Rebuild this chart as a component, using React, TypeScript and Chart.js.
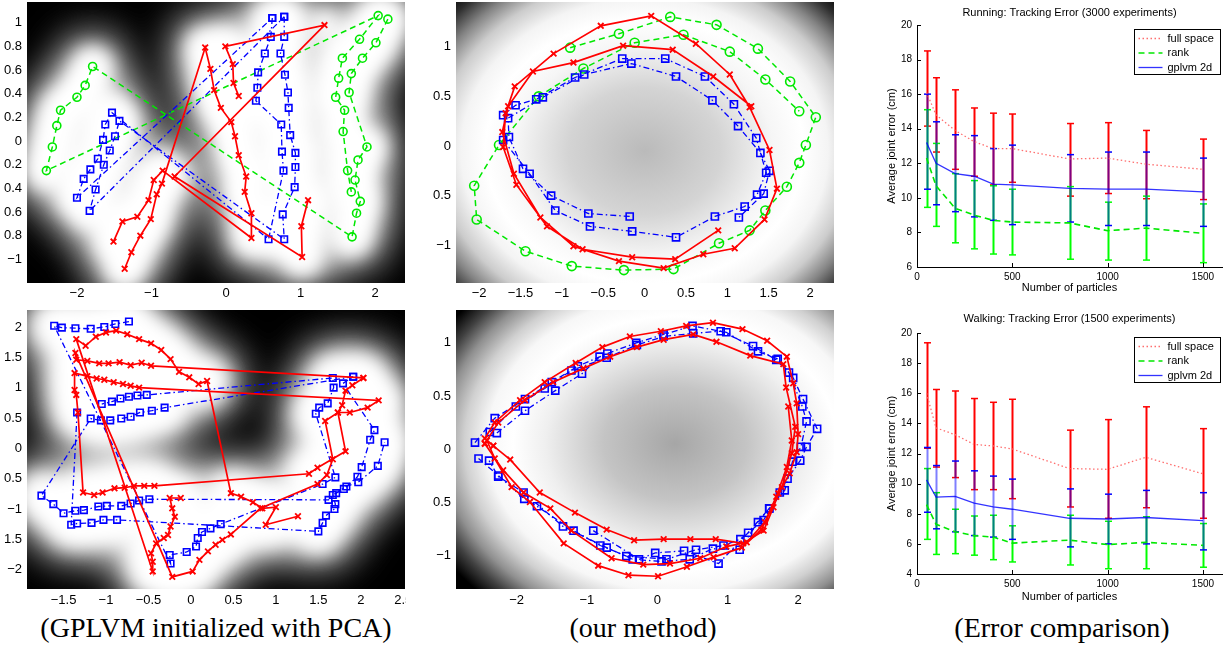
import React, { useEffect, useRef } from 'react';
import { Chart, registerables } from 'chart.js';
Chart.register(...registerables);

type Pt = [number, number];

// ---------------- Panel 1 (GPLVM / PCA init, running) ----------------
const P1_RED_A: Pt[] = [[0.17,0.38],[0.10,0.49],[0.09,0.65],[-0.01,0.80],[1.32,0.98],[-0.69,-0.30],[1.02,-0.98],[1.01,-0.72],[1.10,-0.50]];
const P1_RED_B: Pt[] = [[-1.51,-0.85],[-1.39,-0.68],[-1.19,-0.64],[-1.04,-0.50],[-0.97,-0.33],[-0.85,-0.25],[0.34,-0.82],[0.34,-0.61],[0.25,-0.43],[0.27,-0.30],[0.17,-0.12],[0.12,0.04],[0.07,0.16],[-0.07,0.28],[-0.16,0.43],[-0.21,0.61],[-0.28,0.79],[-0.86,-0.36],[-0.93,-0.45],[-1.01,-0.66],[-1.15,-0.80],[-1.27,-0.94],[-1.36,-1.08]];
const P1_BLUE_A: Pt[] = [[0.62,1.04],[0.60,0.88],[0.52,0.74],[0.43,0.58],[0.42,0.45],[0.40,0.34],[0.74,0.14],[0.75,-0.09],[0.77,-0.25],[0.57,-0.83],[-1.53,0.24],[-1.62,0.14],[-1.65,0.01],[-1.72,-0.15],[-1.82,-0.24],[-1.91,-0.32],[-2.00,-0.48],[0.62,1.04]];
const P1_BLUE_B: Pt[] = [[0.78,1.05],[0.78,0.88],[0.73,0.74],[0.79,0.56],[0.83,0.41],[0.84,0.28],[0.86,0.05],[0.93,-0.10],[0.93,-0.22],[0.92,-0.39],[0.76,-0.62],[0.78,-0.83],[-1.43,0.17],[-1.49,0.04],[-1.56,-0.08],[-1.64,-0.20],[-1.75,-0.41],[-1.83,-0.59],[0.78,1.05]];
const P1_GREEN: Pt[] = [[2.17,1.03],[2.01,0.83],[1.83,0.70],[1.68,0.57],[1.65,0.41],[1.89,-0.05],[1.77,-0.16],[1.73,-0.33],[1.80,-0.51],[1.75,-0.61],[1.69,-0.81],[-1.79,0.63],[-1.89,0.47],[-2.00,0.37],[-2.22,0.26],[-2.27,0.13],[-2.33,-0.05],[-2.41,-0.25],[2.04,1.06],[1.79,0.86],[1.56,0.70],[1.51,0.53],[1.47,0.37],[1.59,0.26],[1.57,0.08],[1.63,-0.25],[1.68,-0.43]];
const P1_X_TICKS = [-2, -1, 0, 1, 2];
const P1_Y_TICKS = [-1, -0.8, -0.6, -0.4, -0.2, 0, 0.2, 0.4, 0.6, 0.8, 1];

// ---------------- Panel 2 (our method, running) ----------------
const P2_RED: Pt[] = [[0.89,-0.85],[0.37,-1.14],[-0.15,-1.12],[-0.75,-1.04],[-1.18,-0.81],[-1.55,-0.39],[-1.71,-0.01],[-1.68,0.33],[-1.57,0.60],[-1.10,0.93],[-0.53,1.21],[0.08,1.31],[0.62,1.03],[1.03,0.72],[1.27,0.39],[1.51,-0.04],[1.60,-0.43],[1.45,-0.74],[1.09,-1.03],[0.71,-1.09],[0.23,-1.23],[-0.31,-1.16],[-0.86,-1.01],[-1.26,-0.72],[-1.58,-0.28],[-1.72,0.14],[-1.65,0.40],[-1.35,0.75],[-0.86,0.84],[-0.26,1.01],[0.34,0.97],[0.83,0.70],[1.29,0.40]];
const P2_BLUE_A: Pt[] = [[-0.18,-0.71],[-0.68,-0.68],[-1.13,-0.50],[-1.47,-0.23],[-1.64,0.09],[-1.65,0.28],[-1.23,0.49],[-0.73,0.72],[-0.16,0.83],[0.38,0.70],[0.82,0.46],[1.13,0.20],[1.40,-0.07],[1.51,-0.25],[1.44,-0.48],[1.14,-0.72]];
const P2_BLUE_B: Pt[] = [[-1.71,0.06],[-1.39,-0.28],[-1.08,-0.65],[-0.66,-0.81],[-0.15,-0.86],[0.38,-0.92],[0.85,-0.71],[1.21,-0.61],[1.36,-0.49],[1.47,-0.27],[1.35,0.08],[1.08,0.42],[0.73,0.70],[0.25,0.88],[-0.27,0.88],[-0.84,0.69],[-1.31,0.47],[-1.56,0.41],[-1.71,0.31]];
const P2_GREEN: Pt[] = [[-0.90,0.99],[-0.31,1.13],[0.31,1.30],[0.87,1.22],[1.37,0.98],[1.76,0.65],[2.07,0.29],[1.95,0.01],[1.87,-0.17],[1.72,-0.41],[1.46,-0.65],[1.27,-0.85],[0.90,-0.98],[0.35,-1.24],[-0.25,-1.25],[-0.88,-1.21],[-1.44,-1.06],[-2.03,-0.74],[-2.06,-0.40],[-1.76,0.01],[-1.28,0.50],[-0.74,0.78],[-0.12,1.04],[0.47,1.12],[1.03,0.95],[1.46,0.67],[1.87,0.35]];
const P2_X_TICKS = [-2, -1.5, -1, -0.5, 0, 0.5, 1, 1.5, 2];
const P2_Y_TICKS = [-1, -0.5, 0, 0.5, 1];

// ---------------- Panel 4 (GPLVM / PCA init, walking) ----------------
const P4_RED_A: Pt[] = [[-0.12,-0.82],[-0.25,-0.82],[-0.22,-0.99],[-0.19,-1.13],[-0.24,-1.29],[-0.27,-1.43],[-0.32,-1.48],[-0.41,-1.57],[-0.47,-1.73],[-0.45,-1.87],[-0.45,-2.03],[-1.35,1.80],[-1.24,1.69],[-1.12,1.84],[-1.00,1.91],[-0.88,1.94],[-0.75,1.88],[-0.61,1.80],[-0.47,1.73],[-0.35,1.62],[-0.24,1.47],[-0.14,1.26],[-0.02,1.17],[0.09,1.06],[0.19,1.11],[0.47,-0.74],[0.59,-0.80],[0.73,-0.89],[0.84,-0.99],[1.00,-0.97],[0.88,-1.26],[1.26,-1.12]];
const P4_RED_B: Pt[] = [[2.03,1.16],[-0.47,1.36],[-0.58,1.41],[-0.71,1.37],[-0.84,1.42],[-0.97,1.40],[-1.08,1.40],[-1.22,1.44],[-1.35,1.46],[-1.36,1.57],[-0.22,-2.12],[0.02,-2.03],[0.10,-1.84],[0.20,-1.70],[0.29,-1.59],[0.37,-1.51],[0.47,-1.42],[0.82,-0.99],[1.49,-0.59],[1.60,-0.44],[1.67,-0.18],[1.58,0.45],[1.73,0.59],[1.87,0.59],[2.08,0.67],[2.21,0.79],[-0.61,1.00],[-0.71,1.03],[-0.80,1.06],[-0.91,1.09],[-1.02,1.13],[-1.11,1.15],[-1.22,1.19],[-1.37,1.24],[-1.37,0.96],[-1.35,0.88],[-1.33,0.59],[-1.27,-0.73],[-1.14,-0.77],[-1.04,-0.73],[-0.90,-0.66],[-0.78,-0.65],[-0.67,-0.62],[-0.55,-0.62],[-0.43,-0.62],[1.39,-0.42],[1.49,-0.32],[1.82,-0.05],[1.73,0.59],[1.78,0.71],[1.82,0.95],[1.90,1.04],[2.03,1.16]];
const P4_BLUE_A: Pt[] = [[-0.73,2.09],[-0.89,2.05],[-1.02,2.00],[-1.18,1.97],[-1.36,1.98],[-1.52,1.99],[-1.61,2.02],[-0.24,-1.90],[-0.25,-1.76],[-0.05,-1.71],[0.06,-1.62],[0.08,-1.48],[0.13,-1.38],[0.23,-1.32],[0.35,-1.25],[1.55,-0.59],[1.70,-0.48],[1.47,0.57],[1.51,0.67],[1.61,0.74],[1.68,1.00],[1.67,1.16],[-0.52,0.88],[-0.63,0.87],[-0.73,0.85],[-0.83,0.82],[-0.93,0.77],[-1.05,0.73]];
const P4_BLUE_B: Pt[] = [[1.91,1.18],[-0.31,0.67],[-0.46,0.62],[-0.60,0.59],[-0.71,0.52],[-0.82,0.49],[-0.95,0.46],[-1.06,0.46],[-1.18,0.49],[-1.76,-0.78],[-1.62,-0.92],[-1.50,-1.07],[-1.36,-1.03],[-1.26,-1.02],[-1.09,-0.96],[-0.99,-0.95],[-0.82,-0.95],[-0.71,-0.91],[-0.61,-0.86],[-0.49,-0.84],[1.62,-0.85],[1.71,-0.74],[1.80,-0.67],[1.96,-0.47],[2.01,-0.31],[2.11,0.14],[2.16,0.30],[1.79,1.07],[1.91,1.18]];
const P4_BLUE_C: Pt[] = [[-1.34,0.59],[-1.41,-1.26],[-1.34,-1.24],[-1.17,-1.23],[-1.03,-1.18],[-0.87,-1.18],[1.50,-1.37],[1.55,-1.23],[1.59,-1.11],[1.69,-1.00],[1.70,-0.92],[1.67,-0.77],[1.83,-0.63],[1.97,-0.56],[2.20,-0.29],[2.28,0.10]];
const P4_X_TICKS = [-1.5, -1, -0.5, 0, 0.5, 1, 1.5, 2, 2.5];
const P4_Y_TICKS = [-2, -1.5, -1, -0.5, 0, 0.5, 1, 1.5, 2];

// ---------------- Panel 5 (our method, walking) ----------------
const P5_RED_A: Pt[] = [[-2.33,0.03],[-2.09,-0.10],[-1.67,-0.41],[-1.17,-0.60],[-0.72,-0.76],[-0.33,-0.86],[0.09,-0.85],[0.47,-0.85],[0.83,-0.85],[1.22,-0.89],[1.51,-0.77],[1.65,-0.55],[1.72,-0.42],[1.88,-0.23],[1.98,-0.03],[2.00,0.14],[1.98,0.43],[1.93,0.62],[1.84,0.87],[1.56,1.02],[1.21,1.13],[0.79,1.19],[0.41,1.16],[0.05,1.11],[-0.39,1.06],[-0.78,0.96],[-1.16,0.81],[-1.60,0.63],[-1.95,0.46],[-2.31,0.25],[-2.45,0.10],[-2.33,0.03]];
const P5_RED_B: Pt[] = [[-2.45,0.05],[-2.19,-0.20],[-1.90,-0.41],[-1.52,-0.56],[-1.22,-0.77],[-0.65,-1.03],[-0.20,-1.09],[0.18,-1.08],[0.61,-1.03],[0.98,-0.92],[1.27,-0.88],[1.53,-0.69],[1.77,-0.36],[1.91,-0.04],[1.96,0.21],[1.83,0.58],[1.79,0.80],[1.32,0.88],[0.84,1.01],[0.51,1.08],[0.09,1.03],[-0.29,0.96],[-0.67,0.87],[-1.05,0.76],[-1.48,0.63],[-1.88,0.46],[-2.26,0.25],[-2.45,0.05]];
const P5_RED_C: Pt[] = [[-2.42,0.08],[-2.31,-0.09],[-2.07,-0.36],[-1.81,-0.50],[-1.33,-0.89],[-0.84,-1.10],[-0.41,-1.19],[0.01,-1.20],[0.42,-1.11],[0.80,-1.02],[1.20,-0.93],[1.48,-0.76],[1.69,-0.45],[1.84,-0.17],[1.91,0.08],[1.86,0.40]];
const P5_BLUE_A: Pt[] = [[-2.59,0.06],[-2.31,0.29],[-1.88,0.47],[-1.50,0.63],[-1.13,0.78],[-0.71,0.90],[-0.30,1.00],[0.09,1.08],[0.50,1.16],[0.98,1.10],[1.43,0.92],[1.71,0.85],[1.93,0.67],[2.07,0.47],[2.27,0.19],[2.12,0.02],[2.03,-0.11],[1.85,-0.28],[1.74,-0.41],[1.51,-0.67],[1.18,-0.85],[0.94,-0.91],[0.55,-0.95],[0.13,-1.04],[-0.44,-1.01],[-0.81,-0.91],[-1.19,-0.77],[-1.71,-0.54],[-1.89,-0.47],[-2.26,-0.25],[-2.54,-0.09]];
const P5_BLUE_B: Pt[] = [[-2.38,0.16],[-2.01,0.40],[-1.60,0.57],[-1.22,0.74],[-0.72,0.86],[-0.29,0.98],[0.09,1.06],[0.51,1.09],[0.90,1.11],[1.36,0.97],[1.69,0.84],[1.87,0.72],[2.06,0.40],[2.12,0.26],[2.04,0.02],[1.92,-0.12],[1.81,-0.39],[1.59,-0.56],[1.43,-0.69],[1.17,-0.95],[0.79,-0.94],[0.46,-1.04],[0.06,-1.06],[-0.35,-1.04],[-0.72,-0.93],[-1.34,-0.73],[-1.90,-0.41],[-2.26,-0.26],[-2.39,-0.11]];
const P5_BLUE_C: Pt[] = [[-2.28,0.15],[-1.88,0.36],[-1.45,0.55],[-1.07,0.71],[-0.82,0.87]];
const P5_BLUE_D: Pt[] = [[-0.91,-0.77],[-0.26,-1.04],[-0.03,-0.98],[0.38,-0.96],[0.87,-1.08],[1.29,-0.79],[1.59,-0.56]];
const P5_X_TICKS = [-2, -1, 0, 1, 2];
const P5_Y_TICKS = [-1, -0.5, 0, 0.5, 1];

// ---------------- Error comparison ----------------
const PARTICLES = [50, 100, 200, 300, 400, 500, 800, 1000, 1200, 1500];
const ERR_X_TICKS = [0, 500, 1000, 1500];

const RUN_FULL = [16.1, 14.8, 13.9, 13.25, 12.85, 12.85, 12.25, 12.3, 11.95, 11.65];
const RUN_FULL_HI = [18.5, 16.95, 16.25, 15.2, 14.9, 14.85, 14.3, 14.35, 13.9, 13.4];
const RUN_FULL_LO = [14.15, 12.65, 11.65, 11.25, 10.75, 10.9, 10.1, 10.25, 9.95, 9.9];
const RUN_RANK = [12.3, 10.7, 9.4, 9.0, 8.7, 8.6, 8.55, 8.1, 8.25, 7.95];
const RUN_RANK_HI = [15.1, 13.15, 11.4, 11.0, 10.7, 10.5, 10.65, 9.75, 10.1, 9.65];
const RUN_RANK_LO = [9.45, 8.35, 7.4, 7.05, 6.75, 6.7, 6.45, 6.4, 6.4, 6.25];
const RUN_GP = [13.2, 12.0, 11.4, 11.25, 10.8, 10.75, 10.55, 10.5, 10.5, 10.35];
const RUN_GP_HI = [16.0, 14.4, 13.65, 13.6, 12.85, 13.05, 12.5, 12.65, 12.65, 12.3];
const RUN_GP_LO = [10.5, 9.6, 9.2, 8.9, 8.7, 8.45, 8.6, 8.4, 8.4, 8.35];
const RUN_Y_TICKS = [6, 8, 10, 12, 14, 16, 18, 20];

const WALK_FULL = [16.0, 13.7, 13.25, 12.6, 12.5, 12.3, 11.0, 10.95, 11.75, 10.65];
const WALK_FULL_HI = [19.35, 16.25, 16.15, 15.65, 15.4, 15.6, 13.55, 14.25, 15.1, 13.65];
const WALK_FULL_LO = [12.35, 11.1, 10.4, 9.6, 9.6, 9.0, 8.45, 7.7, 8.4, 7.7];
const WALK_RANK = [8.6, 7.3, 6.8, 6.55, 6.45, 6.05, 6.25, 5.95, 6.1, 5.9];
const WALK_RANK_HI = [11.0, 9.4, 8.3, 7.85, 7.9, 7.2, 7.9, 7.5, 7.8, 7.35];
const WALK_RANK_LO = [6.3, 5.3, 5.35, 5.25, 4.95, 4.8, 4.6, 4.35, 4.35, 4.45];
const WALK_GP = [10.25, 9.1, 9.15, 8.7, 8.45, 8.3, 7.7, 7.65, 7.75, 7.55];
const WALK_GP_HI = [12.4, 11.2, 11.5, 10.85, 10.5, 10.3, 9.65, 9.3, 9.55, 9.4];
const WALK_GP_LO = [8.1, 7.0, 6.8, 6.55, 6.45, 6.3, 5.8, 6.0, 6.0, 5.6];
const WALK_Y_TICKS = [4, 6, 8, 10, 12, 14, 16, 18, 20];

const LEGEND_LABELS = ['full space', 'rank', 'gplvm 2d'];

// ---------------- helpers ----------------
const SANS = '"Liberation Sans", Arial, Helvetica, sans-serif';
const num = (v: number) => String(Math.round(v * 100) / 100);
const fmtX = (v: number) => (v < 0 ? '\u2212' + num(-v) : num(v));
const fmtY = (v: number) => (v < 0 ? (Number.isInteger(v) ? '\u2212' + num(-v) : num(-v)) : num(v));

function series(points: Pt[], style: string, size: number) {
  const base: any = {
    data: points.map(([x, y]) => ({ x, y })),
    showLine: true,
    fill: false,
    tension: 0,
    backgroundColor: 'rgba(0,0,0,0)',
    pointBackgroundColor: 'rgba(0,0,0,0)',
    pointHoverRadius: size,
  };
  if (style === 'red')
    return { ...base, borderColor: '#ff0000', borderWidth: 1.7, pointStyle: 'crossRot', pointRadius: size, pointBorderColor: '#ff0000', pointBorderWidth: 1.8 };
  if (style === 'blue')
    return { ...base, borderColor: '#0000ff', borderWidth: 1.3, borderDash: [6, 3, 1.5, 3], pointStyle: 'rect', pointRadius: size, pointBorderColor: '#0000ff', pointBorderWidth: 1.6 };
  return { ...base, borderColor: '#00e800', borderWidth: 1.5, borderDash: [6, 4], pointStyle: 'circle', pointRadius: size, pointBorderColor: '#00e800', pointBorderWidth: 1.6 };
}

function bgPlugin(bg: any) {
  return {
    id: 'bgMap',
    beforeDatasetsDraw(chart: any) {
      const { ctx, chartArea: a } = chart;
      const xs = chart.scales.x, ys = chart.scales.y;
      const w = a.right - a.left, h = a.bottom - a.top;
      ctx.save();
      ctx.beginPath();
      ctx.rect(a.left, a.top, w, h);
      ctx.clip();
      if (bg.kind === 'blobs') {
        ctx.fillStyle = '#000';
        ctx.fillRect(a.left, a.top, w, h);
        for (const pass of bg.passes) {
          ctx.filter = `blur(${pass.blur}px)`;
          ctx.globalAlpha = pass.alpha;
          ctx.fillStyle = '#fff';
          ctx.strokeStyle = '#fff';
          const r = pass.radius;
          ctx.beginPath();
          for (const s of bg.sources) {
            for (const [x, y] of s) {
              const px = xs.getPixelForValue(x), py = ys.getPixelForValue(y);
              ctx.moveTo(px + r, py);
              ctx.arc(px, py, r, 0, Math.PI * 2);
            }
          }
          ctx.fill();
          ctx.lineWidth = r * 2;
          ctx.lineCap = 'round';
          ctx.beginPath();
          for (const s of bg.sources) {
            for (let i = 1; i < s.length; i++) {
              const x0 = xs.getPixelForValue(s[i - 1][0]), y0 = ys.getPixelForValue(s[i - 1][1]);
              const x1 = xs.getPixelForValue(s[i][0]), y1 = ys.getPixelForValue(s[i][1]);
              if (Math.hypot(x1 - x0, y1 - y0) < bg.link) {
                ctx.moveTo(x0, y0);
                ctx.lineTo(x1, y1);
              }
            }
          }
          ctx.stroke();
        }
        ctx.filter = 'none';
        ctx.globalAlpha = 1;
      } else {
        const cx = xs.getPixelForValue(bg.cx), cy = ys.getPixelForValue(bg.cy);
        const rx = Math.abs(xs.getPixelForValue(bg.cx + bg.rx) - cx);
        const ry = Math.abs(ys.getPixelForValue(bg.cy + bg.ry) - cy);
        const k = ry / rx;
        ctx.translate(cx, cy);
        ctx.scale(1, k);
        const g = ctx.createRadialGradient(0, 0, 0, 0, 0, rx * 2);
        for (const [t, c] of bg.stops) g.addColorStop(t, c);
        ctx.fillStyle = g;
        ctx.fillRect(a.left - cx, (a.top - cy) / k, w, h / k);
      }
      ctx.restore();
    },
  };
}

const noPadX = (h: number) => (s: any) => { s.height = h; s.paddingLeft = 0; s.paddingRight = 0; };
const noPadY = (w: number) => (s: any) => { s.width = w; s.paddingTop = 0; s.paddingBottom = 0; };

function latentConfig(p: any) {
  return {
    type: 'scatter',
    data: { datasets: p.series },
    options: {
      responsive: false,
      animation: false,
      events: [],
      devicePixelRatio: 1,
      layout: { autoPadding: false, padding: { top: p.padTop, right: p.padRight, left: 0, bottom: 0 } },
      plugins: { legend: { display: false }, tooltip: { enabled: false } },
      scales: {
        x: {
          type: 'linear', min: p.xMin, max: p.xMax,
          grid: { display: false, drawTicks: false, tickLength: 0 }, border: { display: false },
          ticks: { font: { family: SANS, size: 13 }, color: '#000', padding: p.xPad, maxRotation: 0, autoSkip: false, callback: (v: number) => fmtX(v) },
          afterBuildTicks: (s: any) => { s.ticks = p.xTicks.map((v: number) => ({ value: v })); },
          afterFit: noPadX(p.xH),
        },
        y: {
          type: 'linear', min: p.yMin, max: p.yMax,
          grid: { display: false, drawTicks: false, tickLength: 0 }, border: { display: false },
          ticks: { font: { family: SANS, size: 13 }, color: '#000', padding: 5, autoSkip: false, callback: (v: number) => fmtY(v) },
          afterBuildTicks: (s: any) => { s.ticks = p.yTicks.map((v: number) => ({ value: v })); },
          afterFit: noPadY(p.yW),
        },
      },
    },
    plugins: [bgPlugin(p.bg)],
  };
}

function errPlugin(cfg: any) {
  const line = (ctx: any, x0: number, y0: number, x1: number, y1: number) => {
    ctx.beginPath();
    ctx.moveTo(x0, y0);
    ctx.lineTo(x1, y1);
    ctx.stroke();
  };
  return {
    id: 'errDeco',
    beforeDatasetsDraw(chart: any) {
      const { ctx } = chart;
      const xs = chart.scales.x, ys = chart.scales.y;
      ctx.save();
      for (const s of cfg.series) {
        PARTICLES.forEach((xv, i) => {
          const px = Math.round(xs.getPixelForValue(xv)) + 0.5;
          const t = ys.getPixelForValue(s.hi[i]);
          const b = ys.getPixelForValue(s.lo[i]);
          ctx.strokeStyle = s.bar;
          ctx.globalAlpha = s.barAlpha;
          ctx.lineWidth = 2;
          line(ctx, px, t, px, b);
          ctx.globalAlpha = 1;
          ctx.lineWidth = 1.5;
          line(ctx, px - 3.5, t, px + 3.5, t);
          line(ctx, px - 3.5, b, px + 3.5, b);
        });
      }
      ctx.restore();
    },
    afterDatasetsDraw(chart: any) {
      const { ctx, chartArea: a } = chart;
      const xs = chart.scales.x, ys = chart.scales.y;
      ctx.save();
      ctx.strokeStyle = '#000';
      ctx.lineWidth = 1;
      for (const v of ERR_X_TICKS) {
        const px = Math.round(xs.getPixelForValue(v)) + 0.5;
        line(ctx, px, a.bottom, px, a.bottom - 4);
      }
      for (const v of cfg.yTicks) {
        const py = Math.round(ys.getPixelForValue(v)) + 0.5;
        line(ctx, a.left, py, a.left + 4, py);
      }
      ctx.fillStyle = '#000';
      ctx.font = `11px ${SANS}`;
      ctx.textAlign = 'center';
      ctx.textBaseline = 'middle';
      ctx.fillText(cfg.title, (a.left + a.right) / 2, cfg.titleY);
      const bw = 86, bh = 45;
      const bx = Math.round(a.right - 2 - bw) + 0.5, by = Math.round(a.top + 4) + 0.5;
      ctx.fillStyle = '#fff';
      ctx.fillRect(bx, by, bw, bh);
      ctx.strokeStyle = '#000';
      ctx.lineWidth = 1;
      ctx.strokeRect(bx, by, bw, bh);
      ctx.textAlign = 'left';
      chart.data.datasets.forEach((d: any, i: number) => {
        const yy = by + 9 + i * 14.5;
        ctx.save();
        ctx.strokeStyle = d.borderColor;
        ctx.lineWidth = d.borderWidth;
        ctx.setLineDash(d.borderDash || []);
        line(ctx, bx + 4, yy, bx + 28, yy);
        ctx.restore();
        ctx.fillStyle = '#000';
        ctx.fillText(d.label, bx + 33, yy);
      });
      ctx.restore();
    },
  };
}

function errConfig(p: any) {
  const mk = (label: string, ys: number[], color: string, dash: number[], width: number) => ({
    label,
    data: PARTICLES.map((x, i) => ({ x, y: ys[i] })),
    showLine: true, fill: false, tension: 0,
    borderColor: color, borderWidth: width, borderDash: dash,
    pointRadius: 0, pointHoverRadius: 0,
  });
  return {
    type: 'scatter',
    data: {
      datasets: [
        mk(LEGEND_LABELS[0], p.full, 'rgb(255,110,110)', [1.5, 2.5], 1.3),
        mk(LEGEND_LABELS[1], p.rank, '#00e800', [6, 4], 1.6),
        mk(LEGEND_LABELS[2], p.gp, 'rgba(0,0,255,0.8)', [], 1.3),
      ],
    },
    options: {
      responsive: false,
      animation: false,
      events: [],
      devicePixelRatio: 1,
      layout: { autoPadding: false, padding: { top: p.padTop, right: 3, left: 0, bottom: 0 } },
      plugins: { legend: { display: false }, tooltip: { enabled: false } },
      scales: {
        x: {
          type: 'linear', min: 0, max: 1600,
          grid: { display: false, drawTicks: false, tickLength: 0 }, border: { display: true, color: '#000', width: 1 },
          ticks: { font: { family: SANS, size: 10 }, color: '#000', padding: 4, maxRotation: 0, autoSkip: false, callback: (v: number) => String(v) },
          afterBuildTicks: (s: any) => { s.ticks = ERR_X_TICKS.map((v) => ({ value: v })); },
          afterFit: noPadX(p.xH),
          title: { display: true, text: 'Number of particles', color: '#000', font: { family: SANS, size: 11 }, padding: { top: 0, bottom: p.xTitlePad } },
        },
        y: {
          type: 'linear', min: p.yTicks[0], max: 20,
          grid: { display: false, drawTicks: false, tickLength: 0 }, border: { display: true, color: '#000', width: 1 },
          ticks: { font: { family: SANS, size: 10 }, color: '#000', padding: 5, autoSkip: false, callback: (v: number) => String(v) },
          afterBuildTicks: (s: any) => { s.ticks = p.yTicks.map((v: number) => ({ value: v })); },
          afterFit: noPadY(57),
          title: { display: true, text: 'Average joint error (cm)', color: '#000', font: { family: SANS, size: 11 }, padding: { top: 25, bottom: 0 } },
        },
      },
    },
    plugins: [errPlugin({
      title: p.title, titleY: p.titleY, yTicks: p.yTicks,
      series: [
        { lo: p.fullLo, hi: p.fullHi, bar: '#ff0000', barAlpha: 1 },
        { lo: p.rankLo, hi: p.rankHi, bar: '#00ff00', barAlpha: 1 },
        { lo: p.gpLo, hi: p.gpHi, bar: '#0000ff', barAlpha: 0.5 },
      ],
    })],
  };
}

const RADIAL_STOPS_2 = [[0, '#bababa'], [0.25, '#d4d4d4'], [0.42, '#f6f6f6'], [0.52, '#ffffff'], [0.6, '#f4f4f4'], [0.68, '#cccccc'], [0.75, '#848484'], [0.82, '#2e2e2e'], [0.88, '#000000'], [1, '#000000']];
const RADIAL_STOPS_5 = [[0, '#a6a6a6'], [0.22, '#c4c4c4'], [0.4, '#efefef'], [0.5, '#ffffff'], [0.58, '#f7f7f7'], [0.65, '#d0d0d0'], [0.72, '#909090'], [0.78, '#404040'], [0.84, '#000000'], [1, '#000000']];

const PANELS: any[] = [
  {
    left: 0, top: 0, w: 415, h: 300,
    cfg: () => latentConfig({
      padTop: 2, padRight: 10, yW: 27, xH: 17, xPad: 3,
      xMin: -2.67, xMax: 2.40, yMin: -1.2, yMax: 1.175, xTicks: P1_X_TICKS, yTicks: P1_Y_TICKS,
      series: [series(P1_RED_A, 'red', 4), series(P1_RED_B, 'red', 4), series(P1_BLUE_A, 'blue', 4.6), series(P1_BLUE_B, 'blue', 4.6), series(P1_GREEN, 'green', 4)],
      bg: { kind: 'blobs', link: 50, passes: [{ radius: 26, blur: 22, alpha: 0.75 }, { radius: 16, blur: 10, alpha: 1 }], sources: [P1_RED_A, P1_RED_B, P1_BLUE_A, P1_BLUE_B, P1_GREEN] },
    }),
  },
  {
    left: 420, top: 0, w: 425, h: 300,
    cfg: () => latentConfig({
      padTop: 2, padRight: 11, yW: 36, xH: 17, xPad: 3,
      xMin: -2.28, xMax: 2.29, yMin: -1.38, yMax: 1.45, xTicks: P2_X_TICKS, yTicks: P2_Y_TICKS,
      series: [series(P2_RED, 'red', 4), series(P2_BLUE_A, 'blue', 5), series(P2_BLUE_B, 'blue', 5), series(P2_GREEN, 'green', 4.5)],
      bg: { kind: 'radial', cx: 0, cy: -0.05, rx: 1.85, ry: 1.28, stops: RADIAL_STOPS_2 },
    }),
  },
  {
    left: 860, top: 0, w: 365, h: 300,
    cfg: () => errConfig({
      padTop: 25, xH: 33, xTitlePad: 5, title: 'Running: Tracking Error (3000 experiments)', titleY: 13, yTicks: RUN_Y_TICKS,
      full: RUN_FULL, fullLo: RUN_FULL_LO, fullHi: RUN_FULL_HI,
      rank: RUN_RANK, rankLo: RUN_RANK_LO, rankHi: RUN_RANK_HI,
      gp: RUN_GP, gpLo: RUN_GP_LO, gpHi: RUN_GP_HI,
    }),
  },
  {
    left: 0, top: 300, w: 406, h: 312,
    cfg: () => latentConfig({
      padTop: 10, padRight: 1, yW: 27, xH: 23, xPad: 4,
      xMin: -1.93, xMax: 2.52, yMin: -2.32, yMax: 2.28, xTicks: P4_X_TICKS, yTicks: P4_Y_TICKS,
      series: [series(P4_RED_A, 'red', 4), series(P4_RED_B, 'red', 4), series(P4_BLUE_A, 'blue', 4.6), series(P4_BLUE_B, 'blue', 4.6), series(P4_BLUE_C, 'blue', 4.6)],
      bg: { kind: 'blobs', link: 45, passes: [{ radius: 28, blur: 22, alpha: 0.8 }, { radius: 18, blur: 11, alpha: 1 }], sources: [P4_RED_A, P4_RED_B, P4_BLUE_A, P4_BLUE_B, P4_BLUE_C] },
    }),
  },
  {
    left: 420, top: 300, w: 425, h: 312,
    cfg: () => latentConfig({
      padTop: 10, padRight: 11, yW: 36, xH: 23, xPad: 4,
      xMin: -2.86, xMax: 2.51, yMin: -1.32, yMax: 1.31, xTicks: P5_X_TICKS, yTicks: P5_Y_TICKS,
      series: [series(P5_RED_A, 'red', 4), series(P5_RED_B, 'red', 4), series(P5_RED_C, 'red', 4), series(P5_BLUE_A, 'blue', 5), series(P5_BLUE_B, 'blue', 5), series(P5_BLUE_C, 'blue', 5), series(P5_BLUE_D, 'blue', 5)],
      bg: { kind: 'radial', cx: 0.25, cy: 0.05, rx: 2.3, ry: 1.2, stops: RADIAL_STOPS_5 },
    }),
  },
  {
    left: 860, top: 300, w: 365, h: 310,
    cfg: () => errConfig({
      padTop: 33, xH: 36, xTitlePad: 6, title: 'Walking: Tracking Error (1500 experiments)', titleY: 19, yTicks: WALK_Y_TICKS,
      full: WALK_FULL, fullLo: WALK_FULL_LO, fullHi: WALK_FULL_HI,
      rank: WALK_RANK, rankLo: WALK_RANK_LO, rankHi: WALK_RANK_HI,
      gp: WALK_GP, gpLo: WALK_GP_LO, gpHi: WALK_GP_HI,
    }),
  },
];

const CAPTIONS = [
  { x: 216, text: '(GPLVM initialized with PCA)' },
  { x: 643, text: '(our method)' },
  { x: 1062, text: '(Error comparison)' },
];

function ChartBox({ left, top, w, h, cfg }: any) {
  const ref = useRef<HTMLCanvasElement | null>(null);
  useEffect(() => {
    const c = new Chart(ref.current as any, cfg());
    return () => c.destroy();
  }, []);
  return (
    <canvas
      ref={ref}
      width={w}
      height={h}
      style={{ position: 'absolute', left, top, width: w, height: h, display: 'block' }}
    />
  );
}

export default function App() {
  return (
    <div style={{ position: 'fixed', left: 0, top: 0, width: 1225, height: 647, background: '#fff', overflow: 'hidden' }}>
      {PANELS.map((p, i) => (
        <ChartBox key={i} {...p} />
      ))}
      {CAPTIONS.map((c, i) => (
        <div
          key={'c' + i}
          style={{
            position: 'absolute', left: c.x - 250, width: 500, top: 614, textAlign: 'center',
            fontFamily: '"Liberation Serif", "Times New Roman", serif', fontSize: 28, lineHeight: '28px', color: '#000',
          }}
        >
          {c.text}
        </div>
      ))}
    </div>
  );
}
